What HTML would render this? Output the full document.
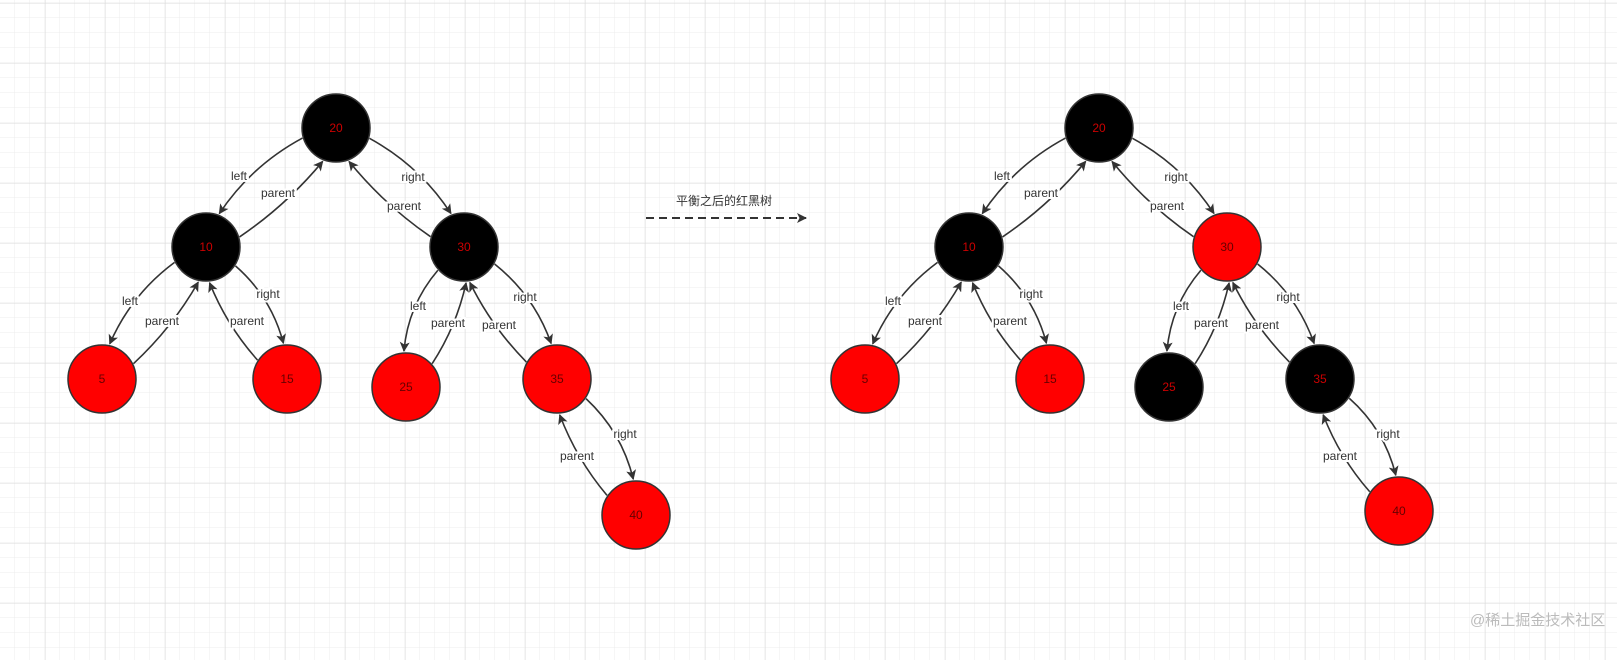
<!DOCTYPE html>
<html><head><meta charset="utf-8"><style>
html,body{margin:0;padding:0;background:#fff}
svg{display:block}
.lb{font:12px "Liberation Sans","Noto Sans CJK SC",sans-serif;fill:#333;text-anchor:middle;dominant-baseline:central;paint-order:stroke;stroke:#fff;stroke-width:4px}
.nt{font:12px "Liberation Sans",sans-serif;text-anchor:middle;dominant-baseline:central}
</style></head><body>
<svg id="s" width="1617" height="660" xmlns="http://www.w3.org/2000/svg">
<defs>
<pattern id="g1" x="0" y="3" width="15" height="15" patternUnits="userSpaceOnUse"><path d="M15 0V15M0 15H15" stroke="#ececec" stroke-width="1" fill="none"/></pattern>
<pattern id="g2" x="45" y="3" width="60" height="60" patternUnits="userSpaceOnUse"><path d="M0 0V60M0 0H60" stroke="#dcdcdc" stroke-width="1" fill="none"/></pattern>
<marker id="ar" viewBox="0 0 10 10" refX="9" refY="5" markerWidth="10" markerHeight="10" markerUnits="userSpaceOnUse" orient="auto"><path d="M0 0L10 5L0 10L2.5 5Z" fill="#333"/></marker>
</defs>
<rect width="1617" height="660" fill="url(#g1)"/>
<rect width="1617" height="660" fill="url(#g2)"/>
<g id="edges1"></g>
<g id="edges2" transform="translate(763,0)"></g>

<line x1="646" y1="218" x2="806" y2="218" stroke="#333" stroke-width="2" stroke-dasharray="8,5" marker-end="url(#ar)"/>
<text x="724" y="201" class="lb" style="stroke:none">平衡之后的红黑树</text>

<g id="L">
<text class="lb" x="239" y="176">left</text>
<text class="lb" x="278" y="193">parent</text>
<text class="lb" x="413" y="177">right</text>
<text class="lb" x="404" y="206">parent</text>
<text class="lb" x="130" y="301">left</text>
<text class="lb" x="162" y="321">parent</text>
<text class="lb" x="268" y="294">right</text>
<text class="lb" x="247" y="321">parent</text>
<text class="lb" x="418" y="306">left</text>
<text class="lb" x="448" y="323">parent</text>
<text class="lb" x="525" y="297">right</text>
<text class="lb" x="499" y="325">parent</text>
<text class="lb" x="625" y="434">right</text>
<text class="lb" x="577" y="456">parent</text>

<circle cx="336" cy="128" r="34" fill="#000" stroke="#333" stroke-width="1.5"/><text class="nt" x="336" y="128" fill="#c00">20</text>
<circle cx="206" cy="247" r="34" fill="#000" stroke="#333" stroke-width="1.5"/><text class="nt" x="206" y="247" fill="#c00">10</text>
<circle cx="464" cy="247" r="34" fill="#000" stroke="#333" stroke-width="1.5"/><text class="nt" x="464" y="247" fill="#c00">30</text>
<circle cx="102" cy="379" r="34" fill="#f00" stroke="#333" stroke-width="1.5"/><text class="nt" x="102" y="379" fill="#600">5</text>
<circle cx="287" cy="379" r="34" fill="#f00" stroke="#333" stroke-width="1.5"/><text class="nt" x="287" y="379" fill="#600">15</text>
<circle cx="406" cy="387" r="34" fill="#f00" stroke="#333" stroke-width="1.5"/><text class="nt" x="406" y="387" fill="#600">25</text>
<circle cx="557" cy="379" r="34" fill="#f00" stroke="#333" stroke-width="1.5"/><text class="nt" x="557" y="379" fill="#600">35</text>
<circle cx="636" cy="515" r="34" fill="#f00" stroke="#333" stroke-width="1.5"/><text class="nt" x="636" y="515" fill="#600">40</text>
</g>

<g transform="translate(763,0)">
<text class="lb" x="239" y="176">left</text>
<text class="lb" x="278" y="193">parent</text>
<text class="lb" x="413" y="177">right</text>
<text class="lb" x="404" y="206">parent</text>
<text class="lb" x="130" y="301">left</text>
<text class="lb" x="162" y="321">parent</text>
<text class="lb" x="268" y="294">right</text>
<text class="lb" x="247" y="321">parent</text>
<text class="lb" x="418" y="306">left</text>
<text class="lb" x="448" y="323">parent</text>
<text class="lb" x="525" y="297">right</text>
<text class="lb" x="499" y="325">parent</text>
<text class="lb" x="625" y="434">right</text>
<text class="lb" x="577" y="456">parent</text>

<circle cx="336" cy="128" r="34" fill="#000" stroke="#333" stroke-width="1.5"/><text class="nt" x="336" y="128" fill="#c00">20</text>
<circle cx="206" cy="247" r="34" fill="#000" stroke="#333" stroke-width="1.5"/><text class="nt" x="206" y="247" fill="#c00">10</text>
<circle cx="464" cy="247" r="34" fill="#f00" stroke="#333" stroke-width="1.5"/><text class="nt" x="464" y="247" fill="#600">30</text>
<circle cx="102" cy="379" r="34" fill="#f00" stroke="#333" stroke-width="1.5"/><text class="nt" x="102" y="379" fill="#600">5</text>
<circle cx="287" cy="379" r="34" fill="#f00" stroke="#333" stroke-width="1.5"/><text class="nt" x="287" y="379" fill="#600">15</text>
<circle cx="406" cy="387" r="34" fill="#000" stroke="#333" stroke-width="1.5"/><text class="nt" x="406" y="387" fill="#c00">25</text>
<circle cx="557" cy="379" r="34" fill="#000" stroke="#333" stroke-width="1.5"/><text class="nt" x="557" y="379" fill="#c00">35</text>
<circle cx="636" cy="511" r="34" fill="#f00" stroke="#333" stroke-width="1.5"/><text class="nt" x="636" y="511" fill="#600">40</text>
</g>

<text x="1470" y="625" style="font:15px 'Liberation Sans','Noto Sans CJK SC',sans-serif;fill:#bbb">@稀土掘金技术社区</text>
</svg>
<script>
(function(){
var N={20:[336,128],10:[206,247],30:[464,247],5:[102,379],15:[287,379],25:[406,387],35:[557,379],40:[636,515]};
var E=[[20,10],[20,30],[10,5],[10,15],[30,25],[30,35],[35,40]];
var r=35,ns="http://www.w3.org/2000/svg";
function rot(v,a){var c=Math.cos(a),s=Math.sin(a);return [v[0]*c-v[1]*s,v[0]*s+v[1]*c];}
function build(g,ov){
E.forEach(function(e){
 var P=N[e[0]].slice(),C=N[e[1]].slice();
 if(ov&&e[1]==40)C=[636,511];
 var dx=C[0]-P[0],dy=C[1]-P[1],L=Math.hypot(dx,dy),u=[dx/L,dy/L];
 var side=dx<0?1:-1; // outward rotation sign
 var t=0.45;
 // child link (outer)
 var a1=rot(u,side*t), s1=[P[0]+r*a1[0],P[1]+r*a1[1]];
 var b1=rot([-u[0],-u[1]],-side*t), e1=[C[0]+(r+1)*b1[0],C[1]+(r+1)*b1[1]];
 var nrm=[-u[1]*side,u[0]*side];
 var m1=[(s1[0]+e1[0])/2+nrm[0]*14,(s1[1]+e1[1])/2+nrm[1]*14];
 // parent link (inner)
 var b2=rot([-u[0],-u[1]],side*t), s2=[C[0]+r*b2[0],C[1]+r*b2[1]];
 var a2=rot(u,-side*t), e2=[P[0]+(r+1)*a2[0],P[1]+(r+1)*a2[1]];
 var m2=[(s2[0]+e2[0])/2-nrm[0]*8,(s2[1]+e2[1])/2-nrm[1]*8];
 [[s1,m1,e1],[s2,m2,e2]].forEach(function(q){
  var p=document.createElementNS(ns,"path");
  p.setAttribute("d","M"+q[0].join(" ")+" Q"+q[1].join(" ")+" "+q[2].join(" "));
  p.setAttribute("fill","none");p.setAttribute("stroke","#333");p.setAttribute("stroke-width","1.6");
  p.setAttribute("marker-end","url(#ar)");g.appendChild(p);
 });
});
}
build(document.getElementById("edges1"),false);
build(document.getElementById("edges2"),true);
})();
</script>
</body></html>
